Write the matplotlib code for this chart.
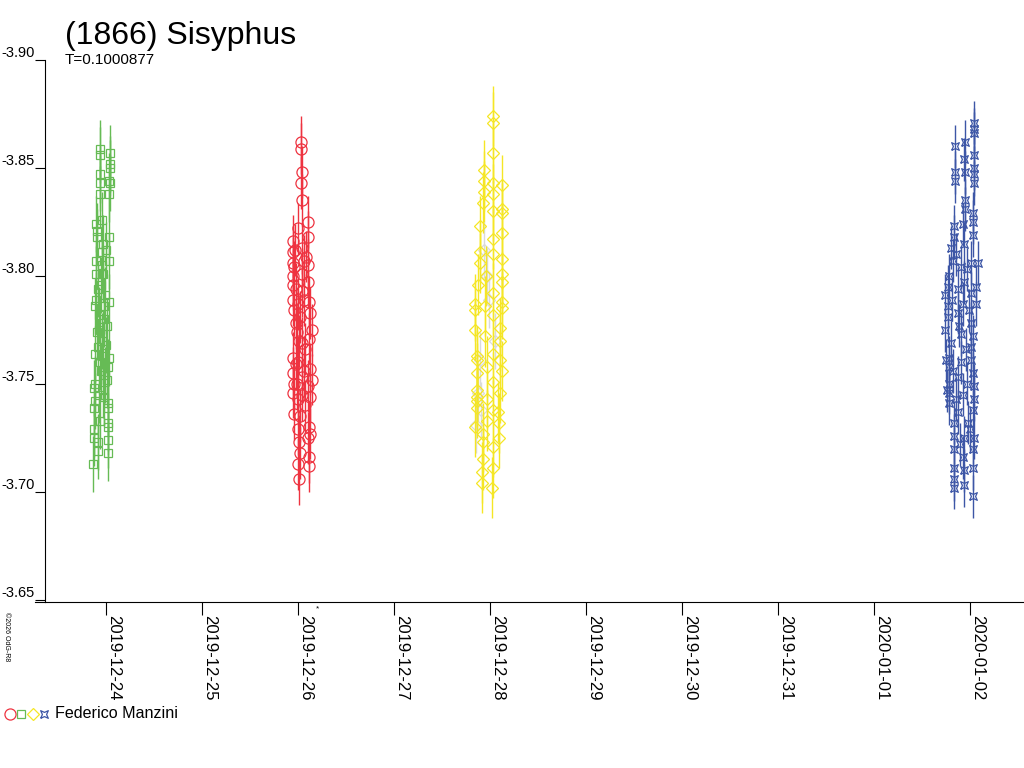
import datetime as dt
import numpy as np
import matplotlib
matplotlib.use("Agg")
import matplotlib.pyplot as plt
import matplotlib.dates as mdates

plt.rcParams["font.family"] = ["Liberation Sans", "DejaVu Sans"]
plt.rcParams["axes.unicode_minus"] = False

title = "(1866) Sisyphus"
subtitle = "T=0.1000877"
observer = "Federico Manzini"

# hours relative to 00:00 UT of the session date, reduced magnitudes
green_date = dt.datetime(2019, 12, 24)
green_h = [-1.5, 1.0, -1.5, 1.0, 1.0, -1.5, -1.5, 0.75, 1.0, -1.5, 0.75, -1.0, -2.5,
           -2.25, -2.25, 0.75, -0.75, -1.0, -2.5, 0.75, -2.5, -0.75, -2.0, -2.5, 0.75,
           -2.75, -0.5, 0.25, -2.25, -1.0, -2.75, 0.75, -1.5, 0.5, -2.75, 0.25, -3.0,
           -0.75, -2.75, 0.5, -3.0, 0.5, -1.5, 0.5, -3.0, 0.5, -3.0, 0.5, -2.0, -2.0,
           0.5, -3.25, -1.25, -0.25, -1.75, -0.5, -1.5, 0.0, -2.0, -0.75, -1.25, -0.25,
           -1.75, -0.5, -1.0, 0.0]
green_mag = [-3.859, -3.857, -3.856, -3.852, -3.850, -3.847, -3.843, -3.844, -3.843,
             -3.838, -3.838, -3.826, -3.824, -3.821, -3.818, -3.818, -3.815, -3.811,
             -3.807, -3.807, -3.801, -3.801, -3.794, -3.789, -3.788, -3.786, -3.786,
             -3.777, -3.774, -3.770, -3.764, -3.762, -3.760, -3.758, -3.750, -3.752,
             -3.748, -3.747, -3.742, -3.741, -3.739, -3.739, -3.733, -3.732, -3.729,
             -3.730, -3.725, -3.724, -3.723, -3.719, -3.718, -3.713, -3.796, -3.791,
             -3.782, -3.780, -3.775, -3.768, -3.767, -3.763, -3.756, -3.754, -3.745,
             -3.744, -3.805, -3.812]

red_date = dt.datetime(2019, 12, 26)
red_h = [0.75, 0.75, 1.0, 0.75, 1.0, 2.5, 0.0, 2.5, -1.25, 1.0, -1.25, 2.0, -1.25, 2.5,
         -1.0, 1.0, -1.25, 2.5, -1.25, 1.0, -1.25, 0.0, 2.75, -1.0, 3.0, 0.5, -0.5, 3.5,
         -0.25, 2.75, 1.0, -1.25, 0.0, 3.0, -1.25, 1.0, 3.5, -1.0, 2.5, -1.25, 1.0, 3.0,
         0.0, -1.0, 0.5, 2.75, 0.0, 3.0, 2.5, 0.25, 0.5, 2.75, 0.0, 2.75, 0.25, -0.5,
         1.5, 0.25, 1.75, -0.5, 1.5, -0.25, 1.75, -0.75, 1.5]
red_mag = [-3.862, -3.859, -3.848, -3.843, -3.835, -3.825, -3.822, -3.818, -3.816,
           -3.813, -3.811, -3.809, -3.806, -3.805, -3.804, -3.801, -3.800, -3.797,
           -3.796, -3.793, -3.789, -3.787, -3.788, -3.784, -3.783, -3.781, -3.778,
           -3.775, -3.774, -3.771, -3.769, -3.762, -3.760, -3.757, -3.755, -3.753,
           -3.752, -3.750, -3.749, -3.746, -3.745, -3.744, -3.743, -3.736, -3.735,
           -3.730, -3.729, -3.727, -3.725, -3.723, -3.718, -3.716, -3.713, -3.712,
           -3.706, -3.794, -3.789, -3.770, -3.766, -3.759, -3.756, -3.750, -3.740,
           -3.812, -3.807]

yellow_date = dt.datetime(2019, 12, 28)
yellow_h = [0.75, 0.75, 0.75, -1.5, -1.5, 0.75, 3.0, -1.5, 0.75, -1.75, 3.0, 3.0, 0.75,
            -2.5, 3.0, 0.75, -2.5, 0.75, 3.0, -2.5, 3.0, -1.0, 3.0, -3.0, 0.75, -3.75,
            3.0, -1.25, -3.75, 3.0, 0.75, -3.75, 2.5, -1.25, 2.5, -3.25, 0.75, -3.25,
            2.5, -0.75, -3.25, 3.0, 0.75, -3.25, 2.5, -3.25, -0.75, -3.25, -3.25, 0.75,
            2.0, -0.75, -3.75, 2.25, -1.75, 2.25, -1.75, 0.75, -1.75, 0.75, -2.0, -2.0,
            0.5]
yellow_mag = [-3.874, -3.871, -3.857, -3.849, -3.844, -3.843, -3.842, -3.839, -3.838,
              -3.834, -3.831, -3.829, -3.830, -3.823, -3.820, -3.817, -3.811, -3.810,
              -3.808, -3.806, -3.801, -3.800, -3.797, -3.796, -3.792, -3.787, -3.788,
              -3.786, -3.784, -3.785, -3.782, -3.775, -3.776, -3.772, -3.770, -3.763,
              -3.764, -3.761, -3.761, -3.758, -3.755, -3.756, -3.751, -3.747, -3.746,
              -3.744, -3.743, -3.742, -3.739, -3.738, -3.737, -3.733, -3.730, -3.732,
              -3.727, -3.725, -3.723, -3.721, -3.715, -3.711, -3.709, -3.704, -3.702]

grey_h = [-3.0, -2.25, -3.5, -0.25, -1.5, 1.25, -2.5, -0.75]
grey_mag = [-3.746, -3.738, -3.731, -3.789, -3.812, -3.770, -3.761, -3.800]

blue_date = dt.datetime(2020, 1, 2)
blue_h = [1.0, 1.0, 1.0, -3.75, -1.25, -1.5, 1.0, 1.0, -3.75, -1.25, 1.0, -3.75, 1.0,
          -1.25, -1.25, 0.75, -4.0, -1.75, 0.75, -4.0, -1.5, 0.75, -4.75, 2.0, -4.25,
          0.25, -2.25, -5.25, -1.5, -5.5, 1.5, -3.0, 0.25, -5.5, -1.75, 1.5, -5.5, -3.0,
          0.25, -2.25, 0.75, -4.75, 0.25, -5.25, -2.25, 0.25, -5.25, 0.75, -3.0, -5.25,
          1.0, -5.25, -1.75, 1.0, -5.25, -3.0, 0.75, -4.0, -0.5, -1.5, -4.0, 1.0, -4.0,
          0.75, -1.75, -4.0, 0.75, -1.5, -4.0, -4.0, -1.5, 0.75, -3.5, -0.75, -4.5,
          -0.25, -2.75, -6.25, -6.25, -1.0, -4.25, -0.75, -3.5, 0.0, -2.5, -5.75, -6.0]
blue_mag = [-3.871, -3.868, -3.866, -3.860, -3.862, -3.854, -3.856, -3.850, -3.848,
            -3.848, -3.847, -3.844, -3.843, -3.835, -3.831, -3.829, -3.823, -3.824,
            -3.825, -3.818, -3.815, -3.819, -3.813, -3.806, -3.807, -3.806, -3.804,
            -3.800, -3.797, -3.795, -3.795, -3.794, -3.792, -3.786, -3.787, -3.787,
            -3.781, -3.783, -3.778, -3.773, -3.772, -3.769, -3.767, -3.762, -3.760,
            -3.761, -3.758, -3.755, -3.753, -3.750, -3.749, -3.746, -3.745, -3.743,
            -3.741, -3.737, -3.738, -3.732, -3.732, -3.725, -3.726, -3.725, -3.720,
            -3.720, -3.716, -3.711, -3.711, -3.710, -3.706, -3.702, -3.703, -3.698,
            -3.810, -3.803, -3.789, -3.784, -3.777, -3.791, -3.775, -3.766, -3.756,
            -3.750, -3.743, -3.729, -3.722, -3.747, -3.761]

y_ticks = [-3.90, -3.85, -3.80, -3.75, -3.70, -3.65]
x_tick_dates = [dt.datetime(2019, 12, d) for d in range(24, 32)] + [
    dt.datetime(2020, 1, 1), dt.datetime(2020, 1, 2)]

GREEN = "#66bb55"
RED = "#ee3340"
YELLOW = "#f5e625"
BLUE = "#3d56a6"
GREY = "#dadada"

# concave square used for the last session
star4 = [(-1, -1), (0, -0.55), (1, -1), (0.55, 0), (1, 1), (0, 0.55), (-1, 1),
         (-0.55, 0), (-1, -1)]


def to_num(base, hours):
    return mdates.date2num(base) + np.array(hours) / 24.0


fig = plt.figure(figsize=(10.24, 7.68), dpi=100)
ax = fig.add_axes([45 / 1024, (768 - 602) / 768, 1 - 45 / 1024, (602 - 60) / 768])

series = [
    (yellow_date, grey_h, grey_mag, "D", 6, GREY, 0.013),
    (green_date, green_h, green_mag, "s", 6, GREEN, 0.013),
    (red_date, red_h, red_mag, "o", 8, RED, 0.012),
    (yellow_date, yellow_h, yellow_mag, "D", 6, YELLOW, 0.014),
    (blue_date, blue_h, blue_mag, star4, 5.5, BLUE, 0.010),
]
for base, hrs, mag, mk, ms, col, err in series:
    ax.errorbar(to_num(base, hrs), mag, yerr=err, fmt="none", ecolor=col,
                elinewidth=1.0, capsize=0)
    ax.plot(to_num(base, hrs), mag, linestyle="none", marker=mk, markersize=ms,
            markerfacecolor="none", markeredgecolor=col, markeredgewidth=0.9)

x0 = mdates.date2num(dt.datetime(2019, 12, 24))
ax.set_xlim(x0 - 0.635, x0 + 9.5625)
ax.set_ylim(-3.649, -3.90)

ax.spines["top"].set_visible(False)
ax.spines["right"].set_visible(False)

ax.set_yticks(y_ticks)
ax.set_yticklabels([f"{v:.2f}" for v in y_ticks], fontsize=10.5)
ax.tick_params(axis="y", length=7, width=0.8, pad=0.5)
plt.setp(ax.get_yticklabels(), va="bottom")

ax.set_xticks(mdates.date2num(x_tick_dates))
ax.set_xticklabels([d.strftime("%Y-%m-%d") for d in x_tick_dates], fontsize=12)
ax.tick_params(axis="x", length=9, width=0.8, pad=0.5)
plt.setp(ax.get_xticklabels(), rotation=270, ha="left", va="top")

# bottom axis line runs a little past the left spine
ax.plot([-0.01, 0], [0, 0], color="black", linewidth=0.8,
        transform=ax.transAxes, clip_on=False)

fig.text(65 / 1024, 1 - 44 / 768, title, fontsize=23)
fig.text(65 / 1024, 1 - 64 / 768, subtitle, fontsize=11)
fig.text(3 / 1024, 1 - 612 / 768, "\u00a92026 OdG-R8", fontsize=5, rotation=270,
         va="top", ha="left")
fig.text(318 / 1024, 1 - 610 / 768, "*", fontsize=6, ha="center")

# legend row
leg_y = 1 - 714 / 768
for xpx, mk, ms, col in [(10, "o", 8, RED), (21, "s", 6, GREEN),
                         (33, "D", 6, YELLOW), (44, star4, 5.5, BLUE)]:
    fig.add_artist(plt.Line2D([xpx / 1024], [leg_y], marker=mk, markersize=ms,
                              markerfacecolor="none", markeredgecolor=col,
                              markeredgewidth=0.9, linestyle="none"))
fig.text(55 / 1024, leg_y, observer, fontsize=11.6, va="center")

fig.savefig("out.png", dpi=100)
